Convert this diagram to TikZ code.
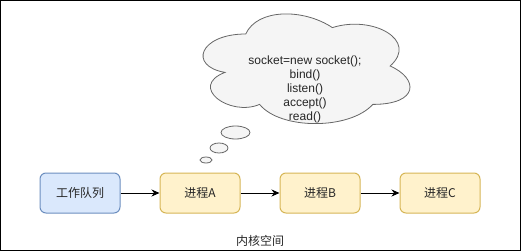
\documentclass[tikz,border=0pt]{standalone}
\usepackage{fontspec}
\setmainfont{Liberation Sans}
\newfontfamily\cjk{Noto Sans CJK SC}
\usepackage{xcolor}
\usetikzlibrary{arrows.meta}

\definecolor{queueFill}{HTML}{DAE8FC}
\definecolor{queueLine}{HTML}{6C8EBF}
\definecolor{procFill}{HTML}{FFF2CC}
\definecolor{procLine}{HTML}{D6B656}
\definecolor{cloudFill}{HTML}{F5F5F5}
\definecolor{cloudLine}{HTML}{666666}

\tikzset{
  box/.style={draw, line width=1pt, rounded corners=6pt, minimum width=80pt, minimum height=40pt,
    inner sep=0pt, font=\cjk\fontsize{12}{14}\selectfont, text=black!85},
  queuebox/.style={box, fill=queueFill, draw=queueLine},
  procbox/.style={box, fill=procFill, draw=procLine},
  link/.style={line width=1pt, -{Stealth[length=8pt, width=7pt]}},
  bubble/.style={fill=cloudFill, draw=cloudLine, line width=0.8pt}
}

\begin{document}
\begin{tikzpicture}[x=1pt, y=-1pt]
  \useasboundingbox (0,0) rectangle (521,251);
  \draw[line width=1pt] (0.5,0.5) rectangle (520.5,250.5);

  % thought cloud
  \begin{scope}[shift={(188,2)}, x=231pt, y=-128pt]
    \draw[bubble] (0.25,0.25) .. controls (0.05,0.25) and (0,0.5) .. (0.16,0.55)
      .. controls (0,0.66) and (0.18,0.9) .. (0.31,0.8)
      .. controls (0.4,1) and (0.7,1) .. (0.8,0.8)
      .. controls (1,0.8) and (1,0.6) .. (0.875,0.5)
      .. controls (1,0.3) and (0.8,0.1) .. (0.625,0.2)
      .. controls (0.5,0.05) and (0.3,0.05) .. (0.25,0.25) -- cycle;
  \end{scope}
  \node[align=center, font=\fontsize{12}{14}\selectfont, text=black!85] (code) at (305,89.5)
    {socket=new socket();\\bind()\\listen()\\accept()\\read()};
  \draw[bubble] (235.5,132.5) ellipse [x radius=14.5pt, y radius=6.5pt];
  \draw[bubble] (219,148) ellipse [x radius=9pt, y radius=5pt];
  \draw[bubble] (206,160) ellipse [x radius=6pt, y radius=3pt];

  % queue and processes
  \node[queuebox] (queue) at (80,193) {工作队列};
  \node[procbox] (procA) at (200,193) {进程A};
  \node[procbox] (procB) at (320,193) {进程B};
  \node[procbox] (procC) at (440,193) {进程C};
  \draw[link] (queue) -- (procA);
  \draw[link] (procA) -- (procB);
  \draw[link] (procB) -- (procC);

  \node[font=\cjk\fontsize{12}{14}\selectfont, text=black!85] (kernel) at (260,241) {内核空间};
\end{tikzpicture}
\end{document}
